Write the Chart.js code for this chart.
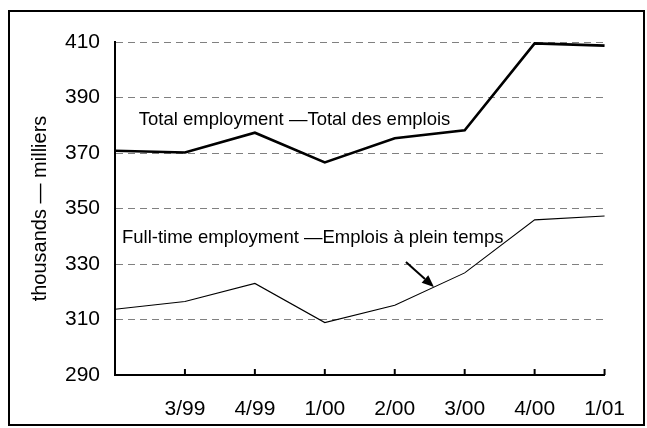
<!DOCTYPE html>
<html>
<head>
<meta charset="utf-8">
<script src="https://cdn.jsdelivr.net/npm/chart.js@4/dist/chart.umd.min.js"></script>
<style>
html,body{margin:0;padding:0;background:#fff;}
#wrap{width:647px;height:428px;}
</style>
</head>
<body>
<div id="wrap"><canvas id="c" width="647" height="428"></canvas></div>
<script>
// Data
const categories = ['', '3/99', '4/99', '1/00', '2/00', '3/00', '4/00', '1/01'];
const totalEmployment = [370.8, 370.2, 377.3, 366.6, 375.3, 378.2, 409.5, 408.7];
const fullTimeEmployment = [313.7, 316.5, 323.0, 308.9, 315.1, 326.8, 345.9, 347.3];
const yTicks = [290, 310, 330, 350, 370, 390, 410];
const yAxisTitle = 'thousands \u2014 milliers';
const totalLabel = 'Total employment \u2014Total des emplois';
const fullTimeLabel = 'Full-time employment \u2014Emplois \u00e0 plein temps';
// annotation anchors in data space: [categoryIndex, value]
const totalLabelAnchor = [0.34, 381.9];
const fullTimeLabelAnchor = [0.1, 339.4];
const arrowFrom = [4.16, 330.7];
const arrowTo = [4.56, 321.7];

const FONT = "'Liberation Sans', Arial, sans-serif";

const decor = {
  id: 'decor',
  afterDraw(chart) {
    const ctx = chart.ctx;
    const xs = chart.scales.x, ys = chart.scales.y;
    const area = chart.chartArea;
    ctx.save();
    // inward tick marks on x axis
    ctx.strokeStyle = '#000';
    ctx.lineWidth = 2;
    for (let i = 1; i < categories.length; i++) {
      const px = xs.getPixelForValue(i);
      ctx.beginPath();
      ctx.moveTo(px, area.bottom);
      ctx.lineTo(px, area.bottom - 6);
      ctx.stroke();
    }
    // annotation texts
    ctx.fillStyle = '#000';
    ctx.font = '18.5px ' + FONT;
    ctx.textBaseline = 'middle';
    ctx.textAlign = 'left';
    ctx.fillText(totalLabel, xs.getPixelForValue(totalLabelAnchor[0]), ys.getPixelForValue(totalLabelAnchor[1]));
    ctx.fillText(fullTimeLabel, xs.getPixelForValue(fullTimeLabelAnchor[0]), ys.getPixelForValue(fullTimeLabelAnchor[1]));
    // arrow
    const x1 = xs.getPixelForValue(arrowFrom[0]), y1 = ys.getPixelForValue(arrowFrom[1]);
    const x2 = xs.getPixelForValue(arrowTo[0]), y2 = ys.getPixelForValue(arrowTo[1]);
    const ang = Math.atan2(y2 - y1, x2 - x1);
    const head = 12, hw = 5;
    const bx = x2 - head * Math.cos(ang), by = y2 - head * Math.sin(ang);
    ctx.lineWidth = 2;
    ctx.beginPath();
    ctx.moveTo(x1, y1);
    ctx.lineTo(bx, by);
    ctx.stroke();
    ctx.beginPath();
    ctx.moveTo(x2, y2);
    ctx.lineTo(bx + hw * Math.sin(ang), by - hw * Math.cos(ang));
    ctx.lineTo(bx - hw * Math.sin(ang), by + hw * Math.cos(ang));
    ctx.closePath();
    ctx.fill();
    // outer frame
    ctx.lineWidth = 2;
    ctx.strokeRect(9, 11, 635, 414);
    ctx.restore();
  }
};

new Chart(document.getElementById('c'), {
  type: 'line',
  data: {
    labels: categories,
    datasets: [
      { label: 'Total', data: totalEmployment, borderColor: '#000', borderWidth: 2.6, pointRadius: 0, tension: 0, fill: false },
      { label: 'Full-time', data: fullTimeEmployment, borderColor: '#000', borderWidth: 1.1, pointRadius: 0, tension: 0, fill: false }
    ]
  },
  options: {
    responsive: false,
    animation: false,
    events: [],
    layout: { padding: { left: 10, right: 36, top: 42, bottom: 0 } },
    plugins: { legend: { display: false }, tooltip: { enabled: false }, title: { display: false } },
    scales: {
      x: {
        type: 'category',
        offset: false,
        grid: { display: false, drawTicks: false },
        border: { display: true, color: '#000', width: 2 },
        ticks: { color: '#000', font: { family: FONT, size: 21 }, padding: 22, maxRotation: 0, autoSkip: false },
        afterFit(s) { s.height = 53; }
      },
      y: {
        min: 290, max: 410,
        afterBuildTicks(s) { s.ticks = yTicks.map(v => ({ value: v })); },
        grid: {
          drawTicks: false,
          color: (c) => (c.tick && c.tick.value === 290) ? 'rgba(0,0,0,0)' : '#808080',
          lineWidth: 1
        },
        border: { display: true, color: '#000', width: 2, dash: [7, 5] },
        ticks: { color: '#000', font: { family: FONT, size: 21 }, padding: 15 },
        title: { display: true, text: yAxisTitle, color: '#000', font: { family: FONT, size: 20 }, padding: { top: 18, bottom: 0 } },
        afterFit(s) { s.width = 105; }
      }
    }
  },
  plugins: [decor]
});
</script>
</body>
</html>
